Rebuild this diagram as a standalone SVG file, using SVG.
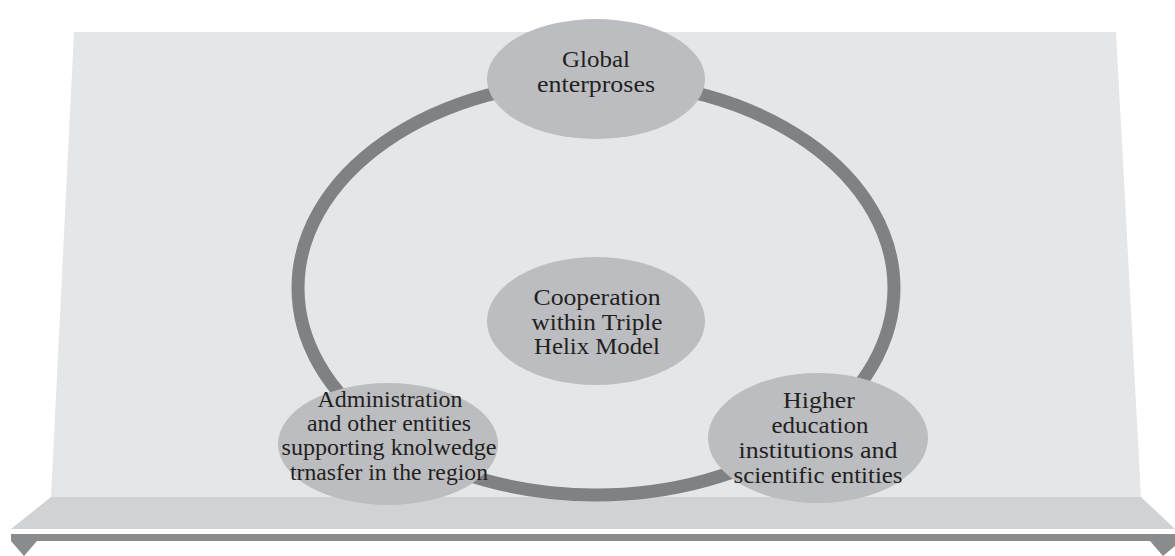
<svg xmlns="http://www.w3.org/2000/svg" width="1175" height="556" viewBox="0 0 1175 556">
<style>
.node{fill:#bcbdc0;}
.ring{fill:none;stroke:#808184;stroke-width:13;}
text{font-family:"Liberation Serif","Times New Roman",serif;font-size:24px;fill:#231f20;text-anchor:middle;}
</style>
<g id="backdrop">
<polygon points="74,32 1116,32 1141,497 51,497" fill="#e5e6e8"/>
<polygon points="51,497 1141,497 1175,529 11,529" fill="#d1d2d4"/>
<polygon points="11,534 1175,534 1175,541 11,541" fill="#8a8b8d"/>
<polygon points="11,541 37,541 24,556" fill="#8a8b8d"/>
<polygon points="1150,541 1175,541 1175,546 1163,556" fill="#8a8b8d"/>
</g>
<g id="connectors">
<ellipse class="ring" cx="596" cy="288" rx="298" ry="207"/>
</g>
<g id="node-global">
<ellipse class="node" cx="596" cy="79" rx="109" ry="60"/>
<text x="596" y="67" textLength="68" lengthAdjust="spacingAndGlyphs">Global</text>
<text x="596" y="92" textLength="118" lengthAdjust="spacingAndGlyphs">enterproses</text>
</g>
<g id="node-center">
<ellipse class="node" cx="596" cy="321" rx="109" ry="64"/>
<text x="597" y="305" textLength="127" lengthAdjust="spacingAndGlyphs">Cooperation</text>
<text x="597" y="330" textLength="131" lengthAdjust="spacingAndGlyphs">within Triple</text>
<text x="597" y="354" textLength="126" lengthAdjust="spacingAndGlyphs">Helix Model</text>
</g>
<g id="node-admin">
<ellipse class="node" cx="388" cy="444" rx="110" ry="61"/>
<text x="390" y="407" textLength="145" lengthAdjust="spacingAndGlyphs">Administration</text>
<text x="389" y="431" textLength="164" lengthAdjust="spacingAndGlyphs">and other entities</text>
<text x="389" y="455" textLength="215" lengthAdjust="spacingAndGlyphs">supporting knolwedge</text>
<text x="389" y="480" textLength="198" lengthAdjust="spacingAndGlyphs">trnasfer in the region</text>
</g>
<g id="node-higher">
<ellipse class="node" cx="818" cy="438" rx="110" ry="65"/>
<text x="819" y="408" textLength="72" lengthAdjust="spacingAndGlyphs">Higher</text>
<text x="820" y="433" textLength="97" lengthAdjust="spacingAndGlyphs">education</text>
<text x="818" y="458" textLength="159" lengthAdjust="spacingAndGlyphs">institutions and</text>
<text x="818" y="483" textLength="169" lengthAdjust="spacingAndGlyphs">scientific entities</text>
</g>
</svg>
